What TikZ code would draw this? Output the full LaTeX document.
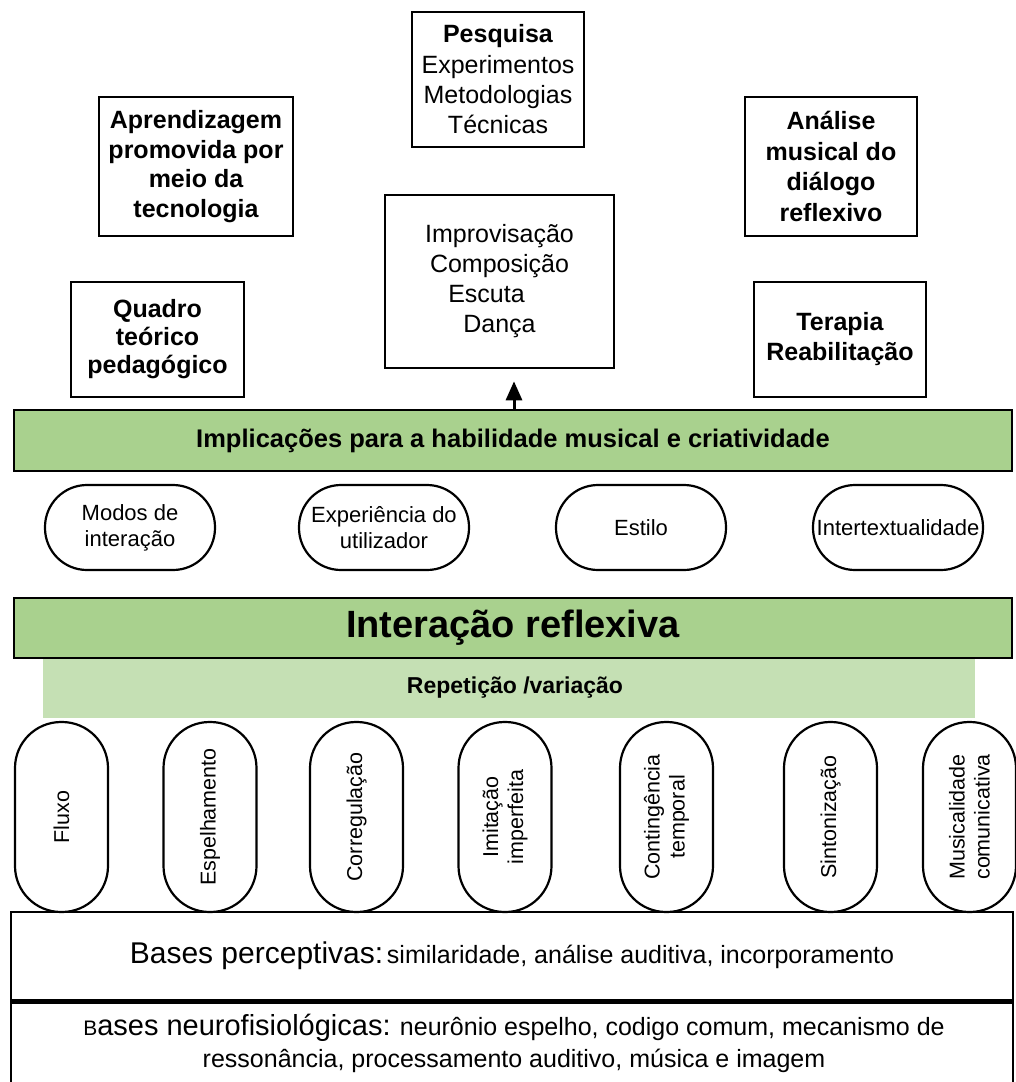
\documentclass[tikz,border=0pt]{standalone}
\usepackage{fontspec}
\setmainfont{Liberation Sans}
\usetikzlibrary{arrows.meta}
\definecolor{barGreen}{HTML}{A9D18E}
\definecolor{paleGreen}{HTML}{C5E0B4}
\begin{document}
\begin{tikzpicture}[x=1pt,y=-1pt,
  framebox/.style={draw, line width=2.6pt, inner sep=0pt, align=center,
    font=\fontsize{25}{30}\selectfont},
  greenbar/.style={draw, line width=2.6pt, fill=barGreen, inner sep=0pt,
    minimum width=998pt, font=\bfseries},
  hpill/.style={draw, line width=2.2pt, rounded corners=42pt, inner sep=0pt,
    minimum width=170pt, minimum height=85pt, align=center,
    font=\fontsize{22}{26}\selectfont},
  vpill/.style={draw, line width=2.2pt, rounded corners=46pt, inner sep=0pt,
    rotate=90, minimum width=190pt, minimum height=93pt, align=center,
    font=\fontsize{21.5}{25}\selectfont},
  basebox/.style={draw, line width=2.6pt, inner sep=0pt, minimum width=1002pt}
]
\useasboundingbox (0,0) rectangle (1016,1082);

% upper row of applications
\node[framebox, minimum width=172pt, minimum height=135pt] (pesq) at (498,79.5)
  {\textbf{Pesquisa}\\[1pt] Experimentos\\ Metodologias\\ Técnicas};
\node[framebox, minimum width=194pt, minimum height=139pt,
  font=\fontsize{25}{29.5}\bfseries] (aprend) at (196,166.5)
  {Aprendizagem\\ promovida por\\ meio da\\ tecnologia};
\node[framebox, minimum width=172pt, minimum height=139pt,
  font=\fontsize{25}{30.5}\bfseries] (analise) at (831,166.5)
  {Análise\\ musical do\\ diálogo\\ reflexivo};
\node[framebox, minimum width=229pt, minimum height=173pt] (improv) at (499.5,281.5)
  {Improvisação\\ Composição\\ Escuta\rule{26pt}{0pt}\\ Dança};
\node[framebox, minimum width=173pt, minimum height=115pt,
  font=\fontsize{25}{28}\bfseries] (quadro) at (157.5,339.5)
  {Quadro\\ teórico\\ pedagógico};
\node[framebox, minimum width=172pt, minimum height=115pt,
  font=\fontsize{25}{30}\bfseries] (terapia) at (840,339.5)
  {Terapia\\ Reabilitação};

% implications bar and arrow
\node[greenbar, minimum height=61pt, font=\fontsize{25.5}{30}\bfseries] (impl) at (513,440.5)
  {Implicações para a habilidade musical e criatividade};
\coordinate (arrowbase) at (514,410);
\draw[line width=3pt, -{Triangle[length=19pt,width=16pt]}, shorten >=12pt]
  (arrowbase) -- (arrowbase |- improv.south);

% dimensions of the implications
\node[hpill] (modos) at (130,527.5) {Modos de\\ interação};
\node[hpill] (exper) at (384,527.5) {Experiência do\\ utilizador};
\node[hpill] (estilo) at (641,527.5) {Estilo};
\node[hpill] (intert) at (898,527.5) {Intertextualidade};

% reflexive interaction
\node[greenbar, minimum height=60pt, font=\fontsize{38}{44}\bfseries] (inter) at (513,628)
  {Interação reflexiva};
\node[fill=paleGreen, inner sep=0pt, minimum width=932pt, minimum height=59pt,
  font=\fontsize{23}{28}\bfseries] (repet) at (509,688)
  {\hspace*{12pt}Repetição /variação};

% mechanisms
\node[vpill] (fluxo) at (61.5,817) {Fluxo};
\node[vpill] (espel) at (210,817) {Espelhamento};
\node[vpill] (correg) at (356.5,817) {Corregulação};
\node[vpill] (imit) at (505,817) {Imitação\\ imperfeita};
\node[vpill] (conting) at (666.5,817) {Contingência\\ temporal};
\node[vpill] (sinton) at (830.5,817) {Sintonização};
\node[vpill] (music) at (969.5,817) {Musicalidade\\ comunicativa};

% foundations
\node[basebox, minimum height=88pt] (percep) at (512,956) {};
\node[anchor=center, inner sep=0pt] (perceptxt) at (percep.center)
  {{\fontsize{30}{36}\selectfont Bases perceptivas:} {\fontsize{25}{30}\selectfont similaridade, análise auditiva, incorporamento}};
\node[basebox, minimum height=92pt, anchor=north] (neuro) at (percep.south) {};
\node[anchor=north, inner sep=0pt, align=center, font=\fontsize{25}{32}\selectfont]
  (neurotxt) at (514,1014)
  {{\fontsize{21}{30}\selectfont B}{\fontsize{29}{36}\selectfont ases neurofisiológicas:} neurônio espelho, codigo comum, mecanismo de\\ ressonância, processamento auditivo, música e imagem};
\end{tikzpicture}
\end{document}
